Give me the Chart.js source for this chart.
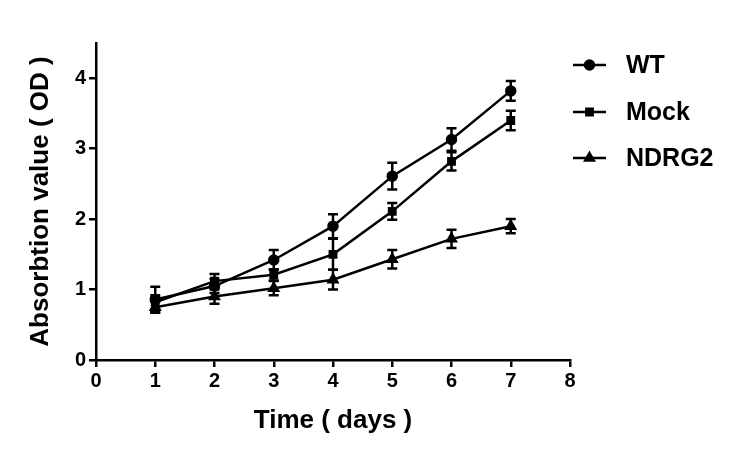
<!DOCTYPE html>
<html lang="en">
<head>
    <meta charset="UTF-8">
    <title>Absorbtion value</title>
    <script src="https://cdn.jsdelivr.net/npm/chart.js"></script>
    <style>
        body { margin: 0; background: #fff; }
        .wrap { width: 739px; height: 458px; }
    </style>
</head>
<body>
    <div class="wrap"><canvas id="chart" width="739" height="458"></canvas></div>

    <script>
        const days = [1, 2, 3, 4, 5, 6, 7];
        const wtMean = [0.86, 1.05, 1.42, 1.90, 2.61, 3.13, 3.82];
        const wtSd = [0.18, 0.10, 0.14, 0.17, 0.19, 0.16, 0.14];
        const mockMean = [0.82, 1.12, 1.21, 1.50, 2.11, 2.82, 3.40];
        const mockSd = [0.10, 0.10, 0.08, 0.22, 0.12, 0.13, 0.14];
        const ndrgMean = [0.75, 0.90, 1.02, 1.14, 1.43, 1.72, 1.90];
        const ndrgSd = [0.08, 0.10, 0.10, 0.14, 0.13, 0.13, 0.10];
        const xTicks = [0, 1, 2, 3, 4, 5, 6, 7, 8];
        const yTicks = [0, 1, 2, 3, 4];

        const FONT = 'Arial, "Liberation Sans", sans-serif';

        function series(label, means, sds, marker) {
            return {
                label: label,
                data: days.map((d, i) => ({ x: d, y: means[i] })),
                sd: sds,
                borderColor: '#000',
                backgroundColor: '#000',
                borderWidth: 2.5,
                pointStyle: marker,
                pointRadius: marker === 'triangle' ? 5 : 4.5,
                pointBackgroundColor: '#000',
                pointBorderColor: '#000',
                tension: 0
            };
        }

        // error bars drawn on the library's scales
        const errorBars = {
            id: 'errorBars',
            afterDatasetsDraw(chart) {
                const ctx = chart.ctx;
                const xs = chart.scales.x, ys = chart.scales.y;
                ctx.save();
                ctx.strokeStyle = '#000';
                ctx.lineWidth = 2.5;
                chart.data.datasets.forEach(ds => {
                    ds.data.forEach((p, i) => {
                        const px = xs.getPixelForValue(p.x);
                        const top = ys.getPixelForValue(p.y + ds.sd[i]);
                        const bot = ys.getPixelForValue(p.y - ds.sd[i]);
                        ctx.beginPath();
                        ctx.moveTo(px, top); ctx.lineTo(px, bot);
                        ctx.moveTo(px - 5, top); ctx.lineTo(px + 5, top);
                        ctx.moveTo(px - 5, bot); ctx.lineTo(px + 5, bot);
                        ctx.stroke();
                    });
                });
                ctx.restore();
            }
        };

        // legend on the right: line + marker + bold label
        const sideLegend = {
            id: 'sideLegend',
            afterDraw(chart) {
                const ctx = chart.ctx;
                const x0 = 573, x1 = 606, tx = 626;
                const rows = [65, 112, 158];
                ctx.save();
                ctx.font = 'bold 25px ' + FONT;
                ctx.textBaseline = 'middle';
                ctx.fillStyle = '#000';
                ctx.strokeStyle = '#000';
                ctx.lineWidth = 2.5;
                chart.data.datasets.forEach((ds, i) => {
                    const y = rows[i];
                    ctx.beginPath();
                    ctx.moveTo(x0, y); ctx.lineTo(x1, y);
                    ctx.stroke();
                    Chart.helpers.drawPoint(ctx, {
                        pointStyle: ds.pointStyle, radius: ds.pointRadius, rotation: 0, borderWidth: 1
                    }, (x0 + x1) / 2, y);
                    ctx.fillText(ds.label, tx, y + 1);
                });
                ctx.restore();
            }
        };

        new Chart(document.getElementById('chart'), {
            type: 'line',
            data: {
                datasets: [
                    series('WT', wtMean, wtSd, 'circle'),
                    series('Mock', mockMean, mockSd, 'rect'),
                    series('NDRG2', ndrgMean, ndrgSd, 'triangle')
                ]
            },
            options: {
                responsive: false,
                animation: false,
                layout: { padding: { left: 0, right: 169, top: 43, bottom: 0 } },
                plugins: { legend: { display: false }, tooltip: { enabled: false } },
                scales: {
                    x: {
                        type: 'linear',
                        min: 0, max: 8,
                        afterBuildTicks: s => { s.ticks = xTicks.map(v => ({ value: v })); },
                        afterFit: s => { s.height = 98; },
                        grid: { drawOnChartArea: false, tickLength: 7, lineWidth: 2.5, color: '#000' },
                        border: { color: '#000', width: 2.5 },
                        ticks: { color: '#000', font: { family: FONT, size: 20, weight: 'bold' }, padding: 2 },
                        title: {
                            display: true, text: 'Time ( days )', color: '#000',
                            font: { family: FONT, size: 26, weight: 'bold' }, padding: { top: 0, bottom: 22 }
                        }
                    },
                    y: {
                        min: 0, max: 4.5,
                        afterBuildTicks: s => { s.ticks = yTicks.map(v => ({ value: v })); },
                        afterFit: s => { s.width = 96; },
                        grid: { drawOnChartArea: false, tickLength: 7, lineWidth: 2.5, color: '#000' },
                        border: { color: '#000', width: 2.5 },
                        ticks: { color: '#000', font: { family: FONT, size: 20, weight: 'bold' }, padding: 3 },
                        title: {
                            display: true, text: 'Absorbtion value ( OD )', color: '#000',
                            font: { family: FONT, size: 26, weight: 'bold' }, padding: { top: 25, bottom: 0 }
                        }
                    }
                }
            },
            plugins: [errorBars, sideLegend]
        });
    </script>
</body>
</html>
